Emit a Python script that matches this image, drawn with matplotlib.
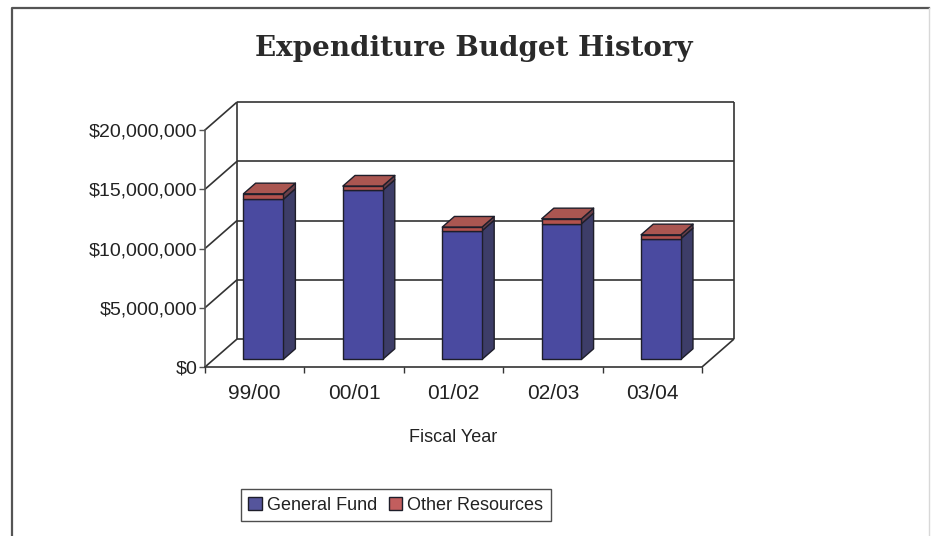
import matplotlib.pyplot as plt
from matplotlib.patches import Polygon, Patch
from matplotlib.lines import Line2D
from matplotlib.ticker import FuncFormatter

years = ["99/00", "00/01", "01/02", "02/03", "03/04"]
general_fund = [13.51e6, 14.27e6, 10.86e6, 11.45e6, 10.19e6]
other_resources = [0.47e6, 0.36e6, 0.31e6, 0.42e6, 0.33e6]
y_ticks = [0, 5e6, 10e6, 15e6, 20e6]

# oblique offset of the back wall (depth 1) in data units
DX, DY = 0.322, 2.36e6
D0, D1 = 0.27, 0.65   # bar depth range
W = 0.40              # bar width

edge = "#1e1e2a"
gf_front, gf_side = "#4a4aa0", "#3d3d68"
or_front, or_side, or_top = "#b4524d", "#6b3f48", "#aa5651"

plt.rcParams["font.family"] = ["Liberation Sans", "DejaVu Sans"]

fig = plt.figure(figsize=(9.32, 5.36), dpi=100)
ax = fig.add_axes([205 / 932, 169 / 536, 497 / 932, 237 / 536])
ax.set_xlim(-0.5, 4.5)
ax.set_ylim(0, 20e6)
ax.patch.set_alpha(0)


def P(x, y, d):
    return (x + d * DX, y + d * DY)


def poly(pts, fc, z=3):
    ax.add_patch(Polygon(pts, closed=True, fc=fc, ec=edge, lw=1.0,
                         zorder=z, clip_on=False, joinstyle="round"))


def seg(a, b, color="#333333", lw=1.2):
    ax.plot([a[0], b[0]], [a[1], b[1]], color=color, lw=lw,
            clip_on=False, zorder=1, solid_capstyle="butt")


# walls and gridlines
x0, x1 = -0.5, 4.5
for v in y_ticks:
    seg(P(x0, v, 1), P(x1, v, 1))
    seg(P(x0, v, 0), P(x0, v, 1))
seg(P(x0, 0, 1), P(x0, y_ticks[-1], 1))
seg(P(x1, 0, 1), P(x1, y_ticks[-1], 1))
seg(P(x1, 0, 0), P(x1, 0, 1))

# stacked 3d bars
for i in range(len(years)):
    gf = general_fund[i]
    tot = gf + other_resources[i]
    l, r = i - W / 2, i + W / 2
    for lo, hi, front, side in [(0, gf, gf_front, gf_side),
                                (gf, tot, or_front, or_side)]:
        poly([P(r, lo, D0), P(r, lo, D1), P(r, hi, D1), P(r, hi, D0)], side)
        poly([P(l, lo, D0), P(r, lo, D0), P(r, hi, D0), P(l, hi, D0)], front, z=4)
    poly([P(l, tot, D0), P(r, tot, D0), P(r, tot, D1), P(l, tot, D1)], or_top)

# axes
for s in ["top", "right"]:
    ax.spines[s].set_visible(False)
ax.spines["left"].set_color("#555555")
ax.spines["bottom"].set_color("#333333")
ax.spines["left"].set_linewidth(1.2)
ax.spines["bottom"].set_linewidth(1.2)
ax.set_yticks(y_ticks)
ax.yaxis.set_major_formatter(FuncFormatter(lambda v, p: f"${v:,.0f}"))
ax.tick_params(axis="y", length=4, width=1, color="#555555", pad=1.5,
               labelsize=14, labelcolor="#222222")
ax.set_xticks([k - 0.5 for k in range(len(years) + 1)])
ax.set_xticklabels([])
ax.set_xticks(range(len(years)), minor=True)
ax.set_xticklabels(years, minor=True)
ax.tick_params(axis="x", which="major", length=4, width=1, color="#333333")
ax.tick_params(axis="x", which="minor", length=0, pad=12,
               labelsize=15, labelcolor="#222222")

fig.text(474 / 932, 1 - 48 / 536, "Expenditure Budget History",
         family=["DejaVu Serif"], weight="bold", fontsize=20,
         color="#2a2a2a", ha="center", va="center")
fig.text(453 / 932, 1 - 438 / 536, "Fiscal Year", fontsize=13,
         color="#222222", ha="center", va="center")

handles = [Patch(fc="#55559c", ec=edge, label="General Fund"),
           Patch(fc="#c25e5e", ec=edge, label="Other Resources")]
leg = fig.legend(handles=handles, loc="center", ncol=2,
                 bbox_to_anchor=(396 / 932, 1 - 505 / 536), fontsize=13,
                 frameon=True, fancybox=False, handlelength=0.75,
                 handleheight=0.75, handletextpad=0.3, columnspacing=0.6,
                 borderpad=0.4, borderaxespad=0)
leg.get_frame().set_edgecolor("#222222")
leg.get_frame().set_linewidth(1.0)
for t in leg.get_texts():
    t.set_color("#222222")

# page frame: dark left and top edges, faint right edge
fl, ft, fr = 12 / 932, 1 - 8 / 536, 929 / 932
fig.add_artist(Line2D([fl, fl, fr], [0, ft, ft], transform=fig.transFigure,
                      color="#555555", lw=1.6))
fig.add_artist(Line2D([fr, fr], [ft, 0], transform=fig.transFigure,
                      color="#d8d8d8", lw=1.0))

fig.savefig("out.png", dpi=100)
